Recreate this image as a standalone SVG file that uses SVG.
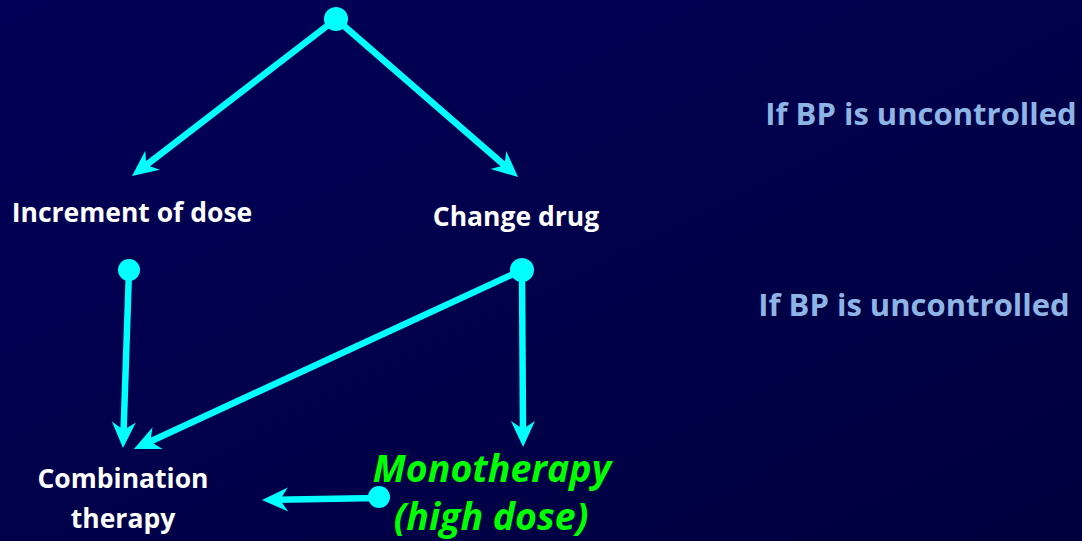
<svg xmlns="http://www.w3.org/2000/svg" width="1082" height="541" viewBox="0 0 1082 541">
<defs>
<linearGradient id="bg" x1="0" y1="0" x2="1" y2="1">
<stop offset="0" stop-color="#000058"/>
<stop offset="1" stop-color="#00003E"/>
</linearGradient>
<marker id="ah" markerUnits="userSpaceOnUse" markerWidth="40" markerHeight="40" refX="0" refY="0" orient="auto" overflow="visible" viewBox="-20 -20 40 40">
<path d="M15,0 L-11,-12 L-3,0 L-11,12 Z" fill="#00FFFF"/>
</marker>
<style>
.ln{stroke:#00FFFF;stroke-width:6.5;fill:none;marker-end:url(#ah)}
.dot{fill:#00FFFF}
.w{font-family:"Open Sans",sans-serif;font-weight:bold;fill:#FFFFFF;font-size:26.5px;text-anchor:middle}
.bp{font-family:"Open Sans",sans-serif;font-weight:bold;fill:#8EB4E3;font-size:31px;text-anchor:middle}
.g{font-family:"Open Sans",sans-serif;font-weight:bold;font-style:italic;fill:#00FF00;font-size:37.5px;text-anchor:middle}
</style>
</defs>
<rect width="1082" height="541" fill="url(#bg)"/>
<g id="connectors">
<path class="ln" d="M336,19 L143.9,166.9"/>
<path class="ln" d="M336,19 L506.7,167.2"/>
<path class="ln" d="M129,270 L123.5,433"/>
<path class="ln" d="M522,270 L147.6,442.7"/>
<path class="ln" d="M522,270 L523,432"/>
<path class="ln" d="M378,498 L277,499.7"/>
</g>
<g id="dots">
<circle class="dot" cx="336" cy="19" r="12"/>
<circle class="dot" cx="129" cy="270" r="11"/>
<circle class="dot" cx="522" cy="270" r="12"/>
<circle class="dot" cx="379" cy="497" r="11"/>
</g>
<g id="increment"><text class="w" x="132" y="222">Increment of dose</text></g>
<g id="change"><text class="w" x="516" y="226">Change drug</text></g>
<g id="combination"><text class="w" x="123" y="488">Combination</text><text class="w" x="123" y="528">therapy</text></g>
<g id="monotherapy"><text class="g" x="492" y="482">Monotherapy</text><text class="g" x="491" y="530">(high dose)</text></g>
<g id="bp1"><text class="bp" x="921" y="125">If BP is uncontrolled</text></g>
<g id="bp2"><text class="bp" x="914" y="316">If BP is uncontrolled</text></g>
</svg>
